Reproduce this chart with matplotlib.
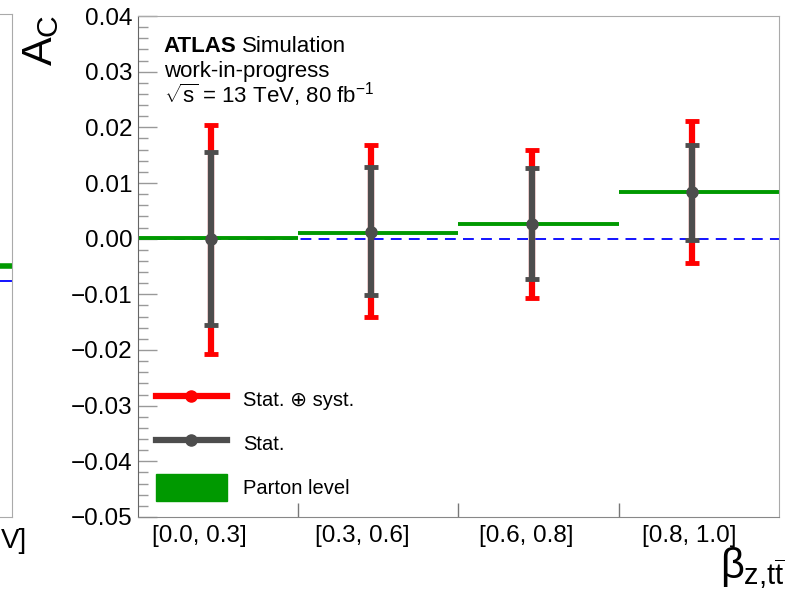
import matplotlib.pyplot as plt
from matplotlib.ticker import MultipleLocator, FuncFormatter, FixedLocator
from matplotlib.lines import Line2D
from matplotlib.patches import Patch

bins = ['[0.0, 0.3]', '[0.3, 0.6]', '[0.6, 0.8]', '[0.8, 1.0]']
ac_value = [0.0000, 0.0012, 0.0026, 0.0083]
stat_up = [0.0155, 0.0116, 0.0101, 0.0086]
stat_down = [0.0156, 0.0114, 0.0099, 0.0085]
tot_up = [0.0205, 0.0156, 0.0134, 0.0128]
tot_down = [0.0207, 0.0152, 0.0132, 0.0127]
parton = [0.0001, 0.0011, 0.0026, 0.0084]

# neighbouring panel that is cut off at the left edge
left_parton = -0.0050
left_ref = -0.0078

plt.rcParams['font.family'] = ['Liberation Sans', 'DejaVu Sans']
plt.rcParams['mathtext.fontset'] = 'custom'
plt.rcParams['mathtext.rm'] = 'Liberation Sans'
plt.rcParams['mathtext.it'] = 'Liberation Sans'


def fmt(v, pos):
    v = round(v, 4)
    if abs(v) < 1e-9:
        v = 0.0
    return ('%.2f' % v).replace('-', '\u2212')


fig = plt.figure(figsize=(7.94, 5.98), dpi=100)

# cut-off panel
axl = fig.add_axes([-0.5, 0.1355, 0.5151, 0.8405])
axl.set_xlim(0, 1)
axl.set_ylim(-0.05, 0.04)
axl.axhline(left_parton, xmin=0.9, xmax=1.0, color='#009900', lw=4)
axl.axhline(left_ref, xmin=0.9, xmax=1.0, color='blue', lw=1.3)
for s in axl.spines.values():
    s.set_color('#aaaaaa')
axl.set_xticks([])
axl.set_yticks([])
fig.text(0.001, 0.095, 'V]', ha='left', va='center', fontsize=20)

ax = fig.add_axes([0.1738, 0.1355, 0.8072, 0.8377])
xs = [i + 0.456 for i in range(len(bins))]

ax.axhline(0, color='blue', lw=1.3, ls=(0, (6, 4)), zorder=1)
for i, p in enumerate(parton):
    ax.hlines(p, i, i + 1, color='#009900', lw=2.8, zorder=2)

ax.errorbar(xs, ac_value, yerr=[tot_down, tot_up], fmt='none', ecolor='#ff0000',
            elinewidth=4.5, capsize=5, capthick=3.5, zorder=3)
ax.errorbar(xs, ac_value, yerr=[stat_down, stat_up], fmt='o', color='#4d4d4d',
            ecolor='#4d4d4d', elinewidth=4.5, capsize=5, capthick=3.5,
            markersize=8, zorder=4)

ax.set_xlim(0, 4)
ax.set_ylim(-0.05, 0.04)
ax.yaxis.set_major_locator(MultipleLocator(0.01))
ax.yaxis.set_minor_locator(MultipleLocator(0.002))
ax.yaxis.set_major_formatter(FuncFormatter(fmt))
ax.tick_params(axis='y', which='major', direction='in', length=14, width=1, color='#999999',
               labelsize=17.5, pad=4)
ax.tick_params(axis='y', which='minor', direction='in', length=7, width=1, color='#999999')
ax.set_xticks([i + 0.38 + 0.02 * i for i in range(len(bins))])
ax.set_xticklabels(bins)
ax.xaxis.set_minor_locator(FixedLocator([1, 2, 3]))
ax.tick_params(axis='x', which='major', length=0, labelsize=17.5, pad=6)
ax.tick_params(axis='x', which='minor', direction='in', length=10, width=1, color='#777777')

for s in ['top', 'right']:
    ax.spines[s].set_color('#aaaaaa')
ax.spines['left'].set_color('#666666')
ax.spines['bottom'].set_color('#888888')

fig.text(0.026, 0.975, r'$A_{C}$', rotation=90, ha='left', va='top', fontsize=31)
fig.text(0.988, 0.012, r'$\beta_{z{,}t\overline{t}}$', ha='right', va='bottom', fontsize=30)

ax.text(0.04, 0.940, 'ATLAS', transform=ax.transAxes, fontsize=16, fontweight='bold', va='center')
ax.text(0.163, 0.940, 'Simulation', transform=ax.transAxes, fontsize=16, va='center')
ax.text(0.04, 0.890, 'work-in-progress', transform=ax.transAxes, fontsize=16, va='center')
ax.text(0.04, 0.842, r'$\sqrt{\mathrm{s}}$ = 13 TeV, 80 fb$^{-1}$', transform=ax.transAxes,
        fontsize=16, va='center')

handles = [
    Line2D([], [], color='#ff0000', lw=4.5, marker='o', markersize=8),
    Line2D([], [], color='#4d4d4d', lw=4.5, marker='o', markersize=8),
    Patch(facecolor='#009900', edgecolor='#009900'),
]
labels = ['Stat. \u2295 syst.', 'Stat.', 'Parton level']
leg = ax.legend(handles, labels, loc='lower left', bbox_to_anchor=(0.0, -0.005), frameon=False,
                fontsize=14.5, handlelength=3.5, handleheight=1.7, labelspacing=0.85,
                handletextpad=0.8)

fig.savefig('out.png', dpi=100)
